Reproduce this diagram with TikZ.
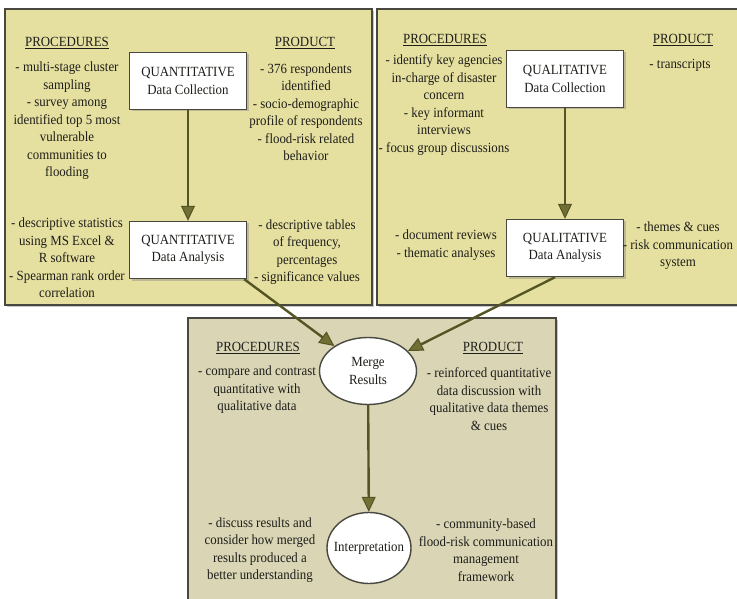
\documentclass[tikz,border=0pt]{standalone}
\usepackage{fontspec}
\setmainfont{Liberation Serif}[FakeStretch=0.92]
\usetikzlibrary{arrows.meta,shadows,shapes.geometric}

\definecolor{panelyel}{RGB}{230,224,160}
\definecolor{panelgrey}{RGB}{217,213,181}
\definecolor{edgegrey}{RGB}{72,72,64}
\definecolor{arrowolive}{RGB}{84,84,36}
\definecolor{tipolive}{RGB}{112,112,52}
\definecolor{inktext}{RGB}{30,30,26}

\tikzset{
  panel/.style={draw=edgegrey, line width=1.6pt, drop shadow={shadow xshift=2pt, shadow yshift=-2pt, opacity=0.45}},
  stagebox/.style={draw=edgegrey, fill=white, line width=1.4pt, minimum width=117pt, minimum height=57pt,
    align=center, inner sep=0pt, drop shadow={shadow xshift=2pt, shadow yshift=-2pt, opacity=0.4}},
  stageoval/.style={ellipse, draw=edgegrey, fill=white, line width=1.4pt, align=center, inner xsep=-8pt, inner ysep=0pt},
  note/.style={align=center, inner sep=0pt},
  flow/.style={draw=arrowolive, line width=2.4pt, -{Triangle[length=15pt,width=14pt,fill=tipolive,line width=1pt]}}
}

\begin{document}
\begin{tikzpicture}[x=1pt, y=-1pt, every node/.style={text=inktext, font=\fontsize{14}{17.5}\selectfont}]
\useasboundingbox (0,0) rectangle (737,599);

% panels
\draw[panel, fill=panelyel] (5,9) rectangle (372,305);
\draw[panel, fill=panelyel] (377,9) rectangle (760,305);
\draw[panel, fill=panelgrey] (188,318) rectangle (556,620);

% quantitative strand
\node[note] (qnHL) at (67,43) {\underline{PROCEDURES}};
\node[note] (qnHR) at (305,43) {\underline{PRODUCT}};
\node[stagebox] (qnC) at (188,81) {QUANTITATIVE\\Data Collection};
\node[stagebox] (qnA) at (188,250) {QUANTITATIVE\\Data Analysis};
\node[note] (qnCP) at (67,121) {- multi-stage cluster\\sampling\\- survey among\\identified top 5 most\\vulnerable\\communities to\\flooding};
\node[note] (qnCO) at (306,112) {- 376 respondents\\identified\\- socio-demographic\\profile of respondents\\- flood-risk related\\behavior};
\node[note] (qnAP) at (67,258) {- descriptive statistics\\using MS Excel \&\\R software\\- Spearman rank order\\correlation};
\node[note] (qnAO) at (307,252) {- descriptive tables\\of frequency,\\percentages\\- significance values};

% qualitative strand
\node[note] (qlHL) at (445,40) {\underline{PROCEDURES}};
\node[note] (qlHR) at (683,40) {\underline{PRODUCT}};
\node[stagebox] (qlC) at (565,79) {QUALITATIVE\\Data Collection};
\node[stagebox] (qlA) at (565,248) {QUALITATIVE\\Data Analysis};
\node[note] (qlCP) at (444,105) {- identify key agencies\\in-charge of disaster\\concern\\- key informant\\interviews\\- focus group discussions};
\node[note] (qlCO) at (680,65) {- transcripts};
\node[note] (qlAP) at (446,245) {- document reviews\\- thematic analyses};
\node[note] (qlAO) at (678,246) {- themes \& cues\\- risk communication\\system};

% merging
\node[note] (mgHL) at (258,348) {\underline{PROCEDURES}};
\node[note] (mgHR) at (493,348) {\underline{PRODUCT}};
\node[stageoval, minimum width=97pt, minimum height=67pt] (merge) at (368,371) {Merge\\Results};
\node[stageoval, minimum width=84pt, minimum height=71pt] (interp) at (369,548) {Interpretation};
\node[note] (mgP) at (257,390) {- compare and contrast\\quantitative with\\qualitative data};
\node[note] (mgO) at (489,399) {- reinforced quantitative\\data discussion with\\qualitative data themes\\\& cues};
\node[note] (inP) at (260,550) {- discuss results and\\consider how merged\\results produced a\\better understanding};
\node[note] (inO) at (486,550) {- community-based\\flood-risk communication\\management\\framework};

\draw[flow] (qnC) -- (qnA);
\draw[flow] (qlC) -- (qlA);
\draw[flow] ([xshift=-3pt]qnA.south east) -- (merge);
\draw[flow] ([xshift=-10pt]qlA.south) -- (merge);
\draw[flow] (merge) -- (interp);
\end{tikzpicture}
\end{document}
